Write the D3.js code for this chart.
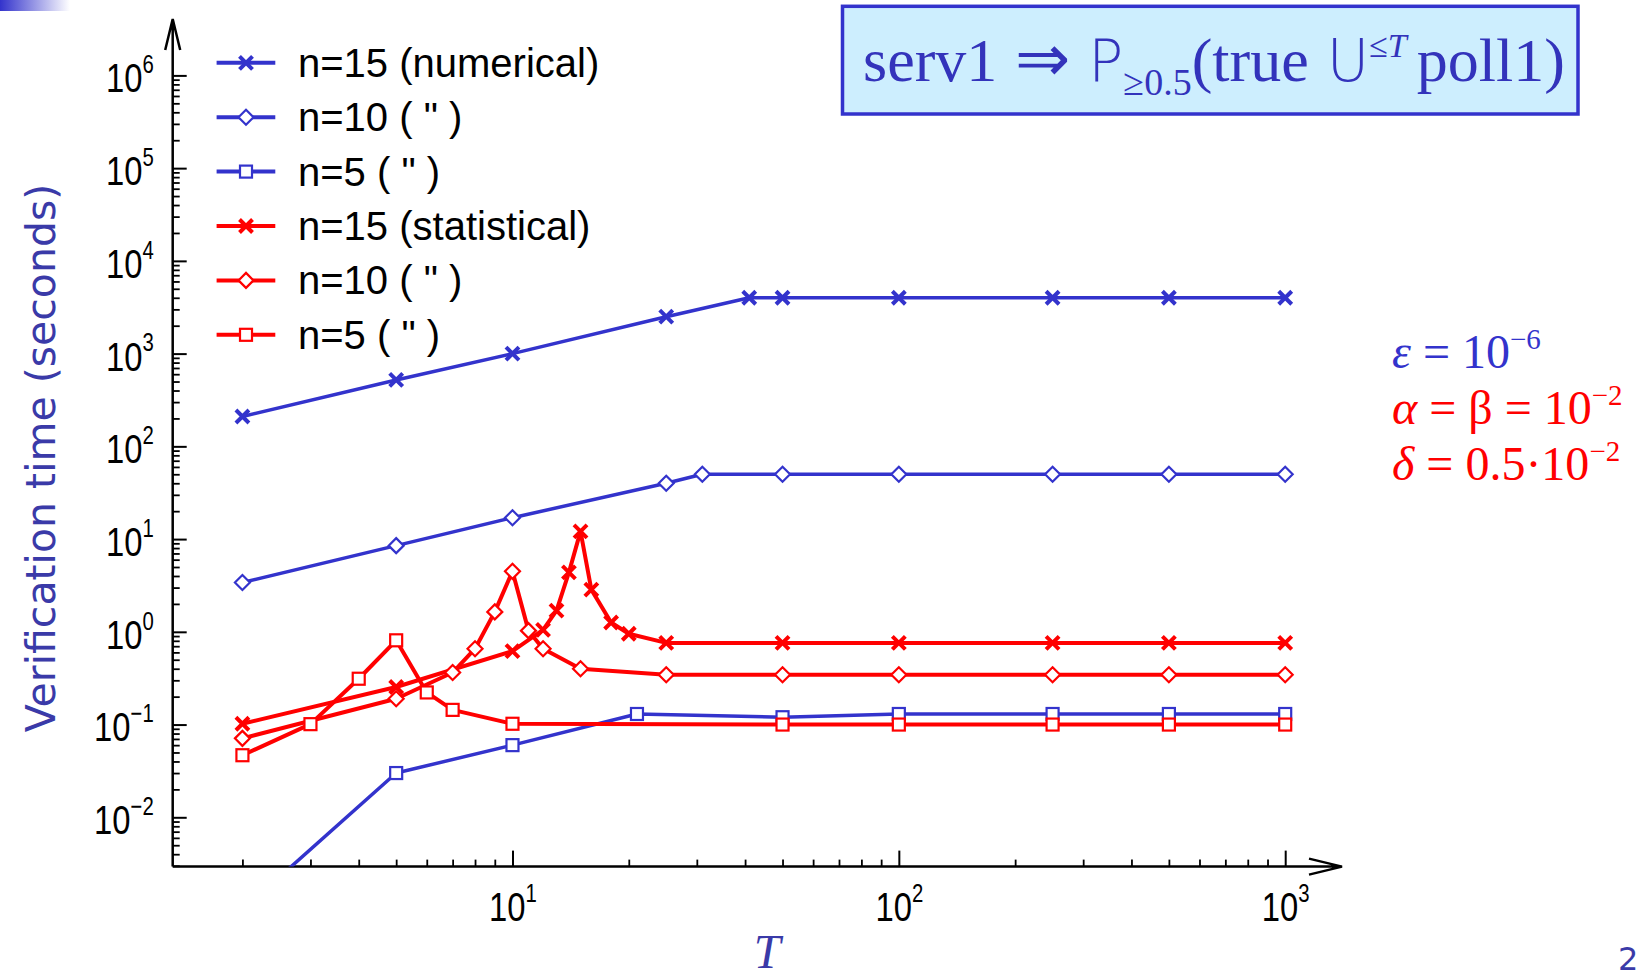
<!DOCTYPE html>
<html>
<head>
<meta charset="utf-8">
<script src="https://cdn.jsdelivr.net/npm/d3@7"></script>
<style>
body { margin: 0; background: #fff; overflow: hidden; }
</style>
</head>
<body>
<svg id="chart" width="1641" height="978"></svg>
<script>

// data

const numT15 = [2, 5, 10, 25, 41, 50, 100, 250, 500, 1000];
const numV15 = [210, 520, 1000, 2500, 4000, 4000, 4000, 4000, 4000, 4000];

const numT10 = [2, 5, 10, 25, 31, 50, 100, 250, 500, 1000];
const numV10 = [3.4, 8.5, 17, 40, 50, 50, 50, 50, 50, 50];

const numT5 = [2, 5, 10, 21, 50, 100, 250, 500, 1000];
const numV5 = [0.001, 0.03, 0.06, 0.13, 0.12, 0.13, 0.13, 0.13, 0.13];

const statT15 = [2, 5, 10, 12, 13, 14, 15, 16, 18, 20, 25, 50, 100, 250, 500, 1000];
const statV15 = [0.102, 0.254, 0.62, 1.05, 1.69, 4.38, 12.1, 2.85, 1.26, 0.954, 0.76, 0.76, 0.76, 0.76, 0.76, 0.76];

const statT10 = [2, 5, 7, 8, 9, 10, 11, 12, 15, 25, 50, 100, 250, 500, 1000];
const statV10 = [0.071, 0.19, 0.364, 0.657, 1.64, 4.49, 1.03, 0.657, 0.40, 0.344, 0.344, 0.344, 0.344, 0.344, 0.344];

const statT5 = [2, 3, 4, 5, 6, 7, 10, 50, 100, 250, 500, 1000];
const statV5 = [0.0467, 0.101, 0.312, 0.81, 0.222, 0.144, 0.102, 0.1, 0.1, 0.1, 0.1, 0.1];

const legendLabels = ['n=15 (numerical)', 'n=10 ( " )', 'n=5 ( " )', 'n=15 (statistical)', 'n=10 ( " )', 'n=5 ( " )'];

const yTickExp = [-2, -1, 0, 1, 2, 3, 4, 5, 6];
const xTickExp = [1, 2, 3];

const blue = '#3333cc';
const red = '#ff0000';

const series = [
    { T: numT15, V: numV15, color: blue, marker: 'cross', width: 3.5 },
    { T: numT10, V: numV10, color: blue, marker: 'diamond', width: 3.5 },
    { T: numT5, V: numV5, color: blue, marker: 'square', width: 3.5 },
    { T: statT15, V: statV15, color: red, marker: 'cross', width: 4 },
    { T: statT10, V: statV10, color: red, marker: 'diamond', width: 4 },
    { T: statT5, V: statV5, color: red, marker: 'square', width: 4 }
];


// layout

const x0 = 172.7, y0 = 866.6;

const svg = d3.select('#chart');

const x = d3.scaleLog().domain([1.32, 1000]).range([x0, 1285.2]);
const y = d3.scaleLog().domain([0.00294, 1e6]).range([y0, 75.4]);

const tickFont = "'Liberation Sans', Arial, sans-serif";
const squeeze = 0.8;


// top-left bar

const grad = svg.append('defs').append('linearGradient').attr('id', 'bar');
grad.append('stop').attr('offset', '0%').attr('stop-color', blue);
grad.append('stop').attr('offset', '100%').attr('stop-color', '#ffffff');
svg.append('rect').attr('x', 0).attr('y', 0).attr('width', 70).attr('height', 11).attr('fill', 'url(#bar)');

svg.select('defs').append('clipPath').attr('id', 'plot')
    .append('rect').attr('x', x0).attr('y', 0).attr('width', 1200).attr('height', y0);


// minor ticks

const minorY = [];
for (let e = -3; e < 6; e++) for (let k = 2; k <= 9; k++) {
    const v = k * Math.pow(10, e);
    if (v >= 0.00294) minorY.push(v);
}
const minorX = [];
for (let e = 0; e < 3; e++) for (let k = 2; k <= 9; k++) minorX.push(k * Math.pow(10, e));

svg.append('g').attr('transform', `translate(${x0},0)`)
    .call(d3.axisLeft(y).tickValues(minorY).tickSize(-7).tickFormat(''))
    .call(g => g.select('.domain').remove())
    .selectAll('line').attr('stroke-width', 1.8);

svg.append('g').attr('transform', `translate(0,${y0})`)
    .call(d3.axisBottom(x).tickValues(minorX).tickSize(-7).tickFormat(''))
    .call(g => g.select('.domain').remove())
    .selectAll('line').attr('stroke-width', 1.8);


// major ticks with labels

const supLabel = (sel, exp) => {
    sel.text(null);
    sel.append('tspan').text('10');
    sel.append('tspan').attr('dy', '-0.75em').attr('font-size', '0.62em')
        .text(exp < 0 ? '\u2212' + (-exp) : exp);
};

const yAxis = svg.append('g').attr('transform', `translate(${x0},0)`)
    .call(d3.axisLeft(y).tickValues(yTickExp.map(e => Math.pow(10, e))).tickSize(-14).tickPadding(19).tickFormat(''));
yAxis.select('.domain').remove();
yAxis.selectAll('line').attr('stroke-width', 2);
yAxis.selectAll('.tick text')
    .attr('font-family', tickFont).attr('font-size', 41).attr('fill', '#000').attr('dy', '0.4em')
    .attr('x', -19 / squeeze).attr('transform', `scale(${squeeze},1)`)
    .each(function (d) { supLabel(d3.select(this), Math.round(Math.log10(d))); });

const xAxis = svg.append('g').attr('transform', `translate(0,${y0})`)
    .call(d3.axisBottom(x).tickValues(xTickExp.map(e => Math.pow(10, e))).tickSize(-16).tickPadding(25).tickFormat(''));
xAxis.select('.domain').remove();
xAxis.selectAll('line').attr('stroke-width', 2);
xAxis.selectAll('.tick text')
    .attr('font-family', tickFont).attr('font-size', 41).attr('fill', '#000').attr('dy', '0.72em')
    .attr('transform', `scale(${squeeze},1)`)
    .each(function (d) { supLabel(d3.select(this), Math.round(Math.log10(d))); });


// axis lines with arrows

svg.append('path').attr('d', `M${x0},${y0}V19M${x0 - 7.5},50L${x0},19L${x0 + 7.5},50`)
    .attr('fill', 'none').attr('stroke', '#000').attr('stroke-width', 2.5);
svg.append('path').attr('d', `M${x0},${y0}H1342M1309,${y0 - 8}L1342,${y0}L1309,${y0 + 8}`)
    .attr('fill', 'none').attr('stroke', '#000').attr('stroke-width', 2.5);


// markers

function marker(g, type, color) {
    if (type === 'cross') {
        g.append('path').attr('d', 'M-6.5,-6.5L6.5,6.5M-6.5,6.5L6.5,-6.5')
            .attr('stroke', color).attr('stroke-width', 4).attr('fill', 'none');
    } else if (type === 'diamond') {
        g.append('path').attr('d', 'M0,-7.5L7.5,0L0,7.5L-7.5,0Z')
            .attr('stroke', color).attr('stroke-width', 2.2).attr('fill', '#fff');
    } else {
        g.append('rect').attr('x', -6).attr('y', -6).attr('width', 12).attr('height', 12)
            .attr('stroke', color).attr('stroke-width', 2.2).attr('fill', '#fff');
    }
}


// lines

const line = d3.line().x(d => x(d[0])).y(d => y(d[1]));

const plot = svg.append('g').attr('clip-path', 'url(#plot)');

series.forEach(s => {
    const pts = s.T.map((t, i) => [t, s.V[i]]);
    plot.append('path').datum(pts).attr('d', line)
        .attr('fill', 'none').attr('stroke', s.color).attr('stroke-width', s.width).attr('stroke-linejoin', 'round');
    plot.selectAll(null).data(pts).enter().append('g')
        .attr('transform', d => `translate(${x(d[0])},${y(d[1])})`)
        .each(function () { marker(d3.select(this), s.marker, s.color); });
});


// legend

const legend = svg.append('g').attr('id', 'legend');

series.forEach((s, i) => {
    const ly = 62.8 + i * 54.4;
    legend.append('line').attr('x1', 216.6).attr('x2', 275.3).attr('y1', ly).attr('y2', ly)
        .attr('stroke', s.color).attr('stroke-width', 4);
    marker(legend.append('g').attr('transform', `translate(246,${ly})`), s.marker, s.color);
    legend.append('text').attr('x', 298).attr('y', ly + 14)
        .attr('font-family', "'Liberation Sans', Arial, sans-serif").attr('font-size', 40).attr('fill', '#000')
        .text(legendLabels[i]);
});


// axis titles

svg.append('text').attr('transform', 'translate(55,458) rotate(-90)')
    .attr('text-anchor', 'middle').attr('font-family', "'DejaVu Sans', Verdana, sans-serif")
    .attr('font-size', 41).attr('fill', '#3a3aa8')
    .text('Verification time (seconds)');

svg.append('text').attr('x', 767).attr('y', 968).attr('text-anchor', 'middle')
    .attr('font-family', "'Liberation Serif', 'Times New Roman', serif").attr('font-style', 'italic')
    .attr('font-size', 48).attr('fill', '#3a3aa8').text('T');

svg.append('text').attr('x', 1618).attr('y', 970)
    .attr('font-family', "'DejaVu Sans', sans-serif").attr('font-size', 32).attr('fill', '#3a3aa8').text('2');


// formula box

svg.append('rect').attr('x', 842.5).attr('y', 6.3).attr('width', 735.5).attr('height', 107.7)
    .attr('fill', '#cdeefe').attr('stroke', blue).attr('stroke-width', 3.5);

const symFont = "'DejaVu Sans', sans-serif";
const f = svg.append('text').attr('x', 863).attr('y', 81)
    .attr('font-family', "'Liberation Serif', 'Times New Roman', serif").attr('font-size', 62).attr('fill', '#3333bb');
f.append('tspan').text('serv1');
f.append('tspan').attr('dx', 18).attr('font-size', 66).text('\u21d2');
f.append('tspan').attr('dx', 18).attr('font-family', symFont).attr('font-weight', 200).attr('font-size', 58).text('P');
f.append('tspan').attr('font-size', 38).attr('dy', 14).text('\u22650.5');
f.append('tspan').attr('dy', -14).text('(true');
f.append('tspan').attr('dx', 18).attr('font-family', symFont).attr('font-weight', 200).attr('font-size', 58).text('U');
f.append('tspan').attr('font-size', 34).attr('dy', -24).text('\u2264');
f.append('tspan').attr('font-size', 34).attr('font-style', 'italic').text('T');
f.append('tspan').attr('dx', 10).attr('dy', 24).text('poll1)');


// parameters

const params = [
    { color: blue, sym: '\u03b5', rest: ' = 10', exp: '\u22126' },
    { color: red, sym: '\u03b1', rest: ' = \u03b2 = 10', exp: '\u22122' },
    { color: red, sym: '\u03b4', rest: ' = 0.5\u00b710', exp: '\u22122' }
];

params.forEach((p, i) => {
    const t = svg.append('text').attr('x', 1392).attr('y', 368 + i * 56)
        .attr('font-family', "'Liberation Serif', 'Times New Roman', serif").attr('font-size', 48).attr('fill', p.color);
    t.append('tspan').attr('font-style', 'italic').text(p.sym);
    t.append('tspan').text(p.rest);
    t.append('tspan').attr('font-size', 29).attr('dy', -19).text(p.exp);
});

</script>
</body>
</html>
